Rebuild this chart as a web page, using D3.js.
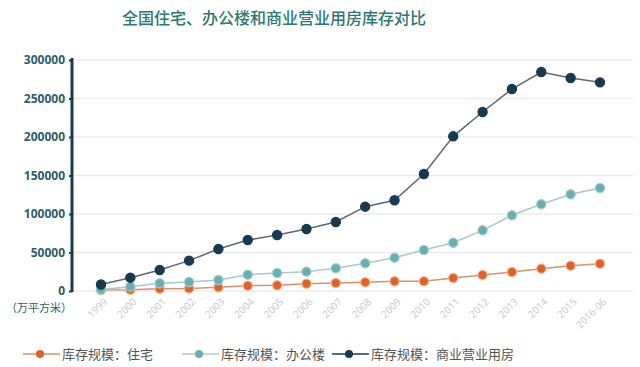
<!DOCTYPE html>
<html><head><meta charset="utf-8">
<script src="https://cdn.jsdelivr.net/npm/d3@7"></script>
<style>body{margin:0;background:#fff;}svg{display:block;font-family:"Noto Sans CJK SC","Noto Sans",sans-serif;}</style>
</head><body>
<svg id="c" width="640" height="367"></svg>
<script>
const categories = ["1999","2000","2001","2002","2003","2004","2005","2006","2007","2008","2009","2010","2011","2012","2013","2014","2015","2016-06"];
const residential = [1200,1500,3000,3300,4800,6900,7400,9500,10400,11300,12600,12600,16900,20800,24700,29000,32900,35500];
const office = [2000,5600,10000,11700,14300,21200,23400,25100,29500,36000,43300,53200,62700,78800,98300,112600,125600,133800];
const business = [8500,17300,27300,39400,54500,66200,72700,80500,89600,109500,117800,152000,200900,232500,262300,284400,276600,271000];
const yTicks = [0,50000,100000,150000,200000,250000,300000];
const seriesNames = ["库存规模：住宅","库存规模：办公楼","库存规模：商业营业用房"];
const title = "全国住宅、办公楼和商业营业用房库存对比";
const unitLabel = "（万平方米）";

const svg = d3.select("#c");
const x = d3.scalePoint().domain(categories).range([101,600]);
const y = d3.scaleLinear().domain([0,300000]).range([291,60]);

const series = [
  {name:seriesNames[0], data:residential, color:"#e0622a", line:"#d9906c", halo:"#f3b38f"},
  {name:seriesNames[1], data:office, color:"#6aaeb1", line:"#a9c9c9", halo:"#9ccfd1"},
  {name:seriesNames[2], data:business, color:"#173a52", line:"#5e6a70", halo:"#173a52"}
];

svg.append("text").attr("x",274).attr("y",24).attr("text-anchor","middle")
  .attr("font-size",16).attr("fill","#2f7774").attr("font-weight","500").text(title);

// grid
svg.append("g").selectAll("line").data(yTicks).join("line")
  .attr("x1",73).attr("x2",633).attr("y1",d=>y(d)).attr("y2",d=>y(d))
  .attr("stroke","#ececec").attr("stroke-width",1.5);

// y axis
const ya = svg.append("g").attr("transform","translate(72,0)")
  .call(d3.axisLeft(y).tickValues(yTicks).tickSize(3).tickPadding(4).tickFormat(d3.format("d")));
ya.select(".domain").attr("stroke","#1b3a4b").attr("stroke-width",3).attr("d","M0,58V292");
ya.selectAll(".tick line").attr("stroke","#1b3a4b").attr("stroke-width",2);
ya.selectAll(".tick text").attr("fill","#2c5d6a").attr("font-size",12).attr("font-weight","bold")
  .attr("font-family","'Open Sans','Noto Sans',sans-serif");

svg.append("text").attr("x",6).attr("y",312).attr("font-size",11).attr("fill","#2c5d6a").text(unitLabel);

// x axis labels
const xa = svg.append("g").attr("transform","translate(0,296)")
  .call(d3.axisBottom(x).tickSize(0).tickPadding(0));
xa.select(".domain").remove();
xa.selectAll(".tick text").attr("fill","#c8c8c8").attr("font-size",10)
  .attr("font-family","'Open Sans','Noto Sans',sans-serif")
  .attr("text-anchor","end").attr("dy","0.35em").attr("dx","0")
  .attr("transform","translate(4,4) rotate(-45)");

const line = d3.line().x((d,i)=>x(categories[i])).y(d=>y(d));
series.forEach(s=>{
  svg.append("path").attr("d",line(s.data)).attr("fill","none").attr("stroke",s.line).attr("stroke-width",1.5);
  svg.append("g").selectAll("circle").data(s.data).join("circle")
    .attr("cx",(d,i)=>x(categories[i])).attr("cy",d=>y(d)).attr("r",4.6)
    .attr("fill",s.color).attr("stroke",s.halo).attr("stroke-width",1.2);
});

// legend
const legendX = [23,182,332];
series.forEach((s,i)=>{
  const g = svg.append("g").attr("transform",`translate(${legendX[i]},354)`);
  g.append("line").attr("x1",0).attr("x2",37).attr("y1",0).attr("y2",0).attr("stroke",s.line==="#5e6a70"?"#1b3a4b":s.line).attr("stroke-width",1.5);
  g.append("circle").attr("cx",17).attr("cy",0).attr("r",4).attr("fill",s.color);
  g.append("text").attr("x",39).attr("y",0).attr("dy","0.35em").attr("font-size",13).attr("fill","#555").text(s.name);
});
</script>
</body></html>
